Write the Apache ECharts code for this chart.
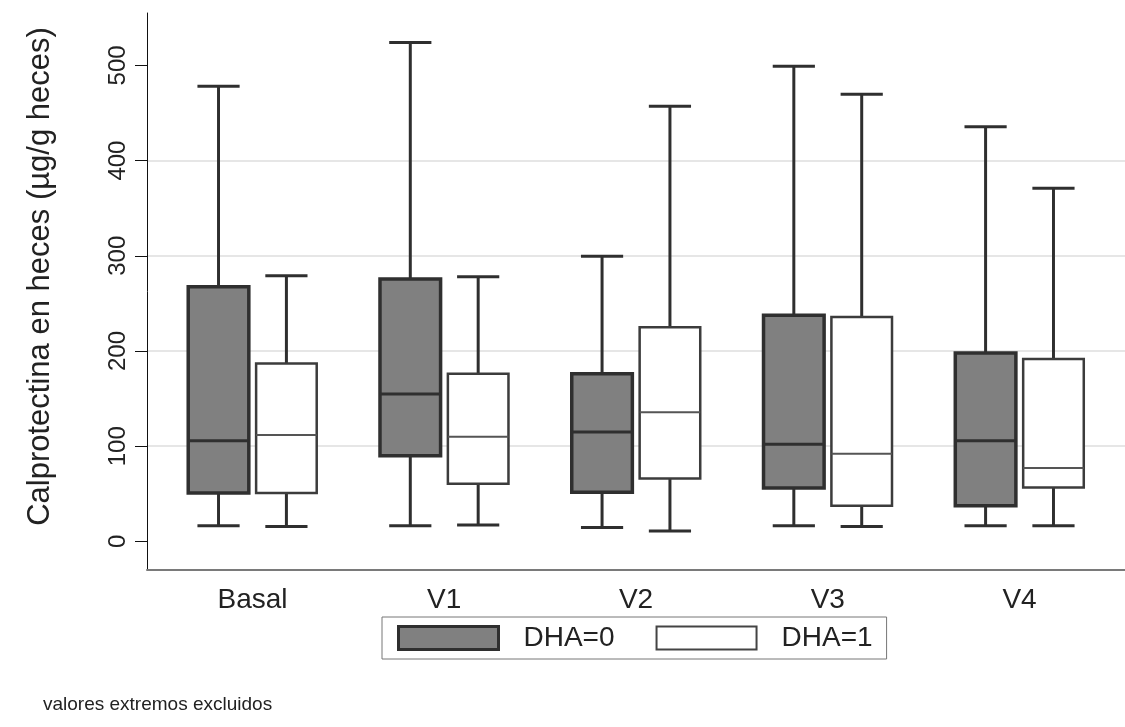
<!DOCTYPE html>
<html>
<head>
<meta charset="utf-8">
<script src="https://cdn.jsdelivr.net/npm/echarts@6/dist/echarts.min.js"></script>
<style>
  html, body { margin: 0; padding: 0; background: #fff; }
  #chart { width: 1125px; height: 727px; }
</style>
</head>
<body>
<div id="chart"></div>
<script>
// categories on the x axis
const visits = ['Basal', 'V1', 'V2', 'V3', 'V4']
const yTicks = [0, 100, 200, 300, 400, 500]

// [low whisker, Q1, median, Q3, high whisker] per visit
const dha0 = [
  [16.5, 51, 105.7, 267.6, 478],
  [16.5, 90, 154.8, 275.5, 524],
  [14.6, 51.7, 115, 176, 299.5],
  [16.5, 56, 102, 237.6, 499],
  [16.5, 37.5, 105.7, 198, 435.5],
]
const dha1 = [
  [15.7, 51, 111.7, 187, 279],
  [17.2, 60.7, 110, 176, 278],
  [10.9, 66, 135.7, 225, 457],
  [15.7, 37.5, 92, 235.8, 469.6],
  [16.5, 56.6, 77, 191.5, 371],
]

const FONT = '"Liberation Sans", Arial, sans-serif'
const INK = '#2f2f2f'

// sizes are fractions of one category step
function boxRenderer(opt) {
  return function (params, api) {
    const unit = api.size([1, 0])[0]
    const x = api.value(0)
    const cx = api.coord([x, 0])[0] + unit * opt.offset
    const half = unit * 0.158
    const cap = unit * 0.11
    const py = k => api.coord([x, api.value(k)])[1]
    const lo = py(1), q1 = py(2), md = py(3), q3 = py(4), hi = py(5)
    const wStyle = { stroke: INK, lineWidth: 3 }
    return {
      type: 'group',
      children: [
        { type: 'line', shape: { x1: cx, y1: hi, x2: cx, y2: q3 }, style: wStyle },
        { type: 'line', shape: { x1: cx, y1: q1, x2: cx, y2: lo }, style: wStyle },
        { type: 'line', shape: { x1: cx - cap, y1: hi, x2: cx + cap, y2: hi }, style: wStyle },
        { type: 'line', shape: { x1: cx - cap, y1: lo, x2: cx + cap, y2: lo }, style: wStyle },
        {
          type: 'rect',
          shape: { x: cx - half, y: q3, width: half * 2, height: q1 - q3 },
          style: { fill: opt.fill, stroke: opt.border, lineWidth: opt.borderWidth },
        },
        {
          type: 'line',
          shape: { x1: cx - half, y1: md, x2: cx + half, y2: md },
          style: { stroke: opt.medianColor, lineWidth: opt.medianWidth },
        },
      ],
    }
  }
}

const toRows = list => list.map((v, i) => [i, ...v])

const chart = echarts.init(document.getElementById('chart'), null, { renderer: 'canvas' })
chart.setOption({
  backgroundColor: '#fff',
  animation: false,
  title: {
    text: 'valores extremos excluidos',
    left: 38, top: 690,
    textStyle: { fontFamily: FONT, fontSize: 19, fontWeight: 'normal', color: '#222' },
  },
  legend: {
    left: 382, top: 617,
    orient: 'horizontal',
    borderColor: '#777', borderWidth: 1,
    padding: [7, 14, 7, 15],
    itemWidth: 100, itemHeight: 23, itemGap: 41,
    icon: 'rect',
    textStyle: { fontFamily: FONT, fontSize: 28, color: '#222', padding: [0, 0, 0, 20] },
    data: [
      { name: 'DHA=0', itemStyle: { color: '#808080', borderColor: INK, borderWidth: 3 } },
      { name: 'DHA=1', itemStyle: { color: '#fff', borderColor: '#444', borderWidth: 2 } },
    ],
  },
  grid: { left: 147, right: 0, top: 13, bottom: 157, containLabel: false },
  xAxis: {
    type: 'value', min: -0.55, max: 4.55,
    axisLine: { onZero: false, lineStyle: { color: '#7a7a7a', width: 2 } },
    axisTick: { show: false },
    splitLine: { show: false },
    axisLabel: {
      customValues: [0, 1, 2, 3, 4],
      formatter: v => visits[Math.round(v)],
      margin: 16,
      fontFamily: FONT, fontSize: 28, color: '#222',
    },
  },
  yAxis: {
    type: 'value', min: -30, max: 555,
    name: 'Calprotectina en heces (µg/g heces)',
    nameLocation: 'middle', nameRotate: 90, nameGap: 91,
    nameTextStyle: { fontFamily: FONT, fontSize: 31, color: '#222', padding: [0, 0, 0, 30] },
    axisLine: { onZero: false, lineStyle: { color: '#111', width: 1 } },
    axisTick: { customValues: yTicks, length: 12, lineStyle: { color: '#111', width: 1 } },
    axisLabel: {
      customValues: yTicks, rotate: 90, margin: 17,
      fontFamily: FONT, fontSize: 24, color: '#222',
    },
    splitLine: { show: true, showMinLine: false, showMaxLine: false, lineStyle: { color: '#e6e6e6', width: 2 } },
  },
  series: [
    {
      name: 'DHA=0', type: 'custom',
      renderItem: boxRenderer({ offset: -0.177, fill: '#808080', border: INK, borderWidth: 3.5, medianColor: INK, medianWidth: 3 }),
      encode: { x: 0, y: [1, 2, 3, 4, 5] },
      itemStyle: { color: '#808080' },
      data: toRows(dha0),
    },
    {
      name: 'DHA=1', type: 'custom',
      renderItem: boxRenderer({ offset: 0.177, fill: '#fff', border: '#3c3c3c', borderWidth: 2.5, medianColor: '#555', medianWidth: 2 }),
      encode: { x: 0, y: [1, 2, 3, 4, 5] },
      itemStyle: { color: '#fff' },
      data: toRows(dha1),
    },
  ],
})
</script>
</body>
</html>
